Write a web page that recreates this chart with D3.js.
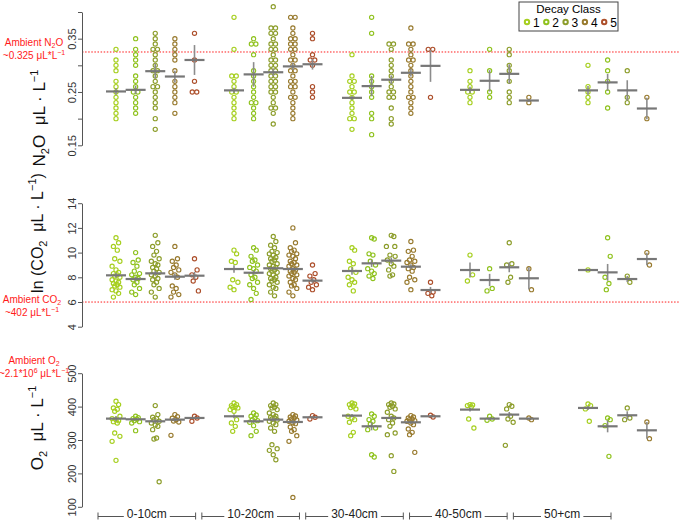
<!DOCTYPE html>
<html>
<head>
<meta charset="utf-8">
<script src="https://cdn.jsdelivr.net/npm/d3@7"></script>
<style>
  body { margin: 0; background: #fff; }
  svg { display: block; font-family: "Liberation Sans", Arial, Helvetica, sans-serif; }
</style>
</head>
<body>
<div id="chart"></div>
<script>
var depths = ['0-10cm', '10-20cm', '30-40cm', '40-50cm', '50+cm'];
var decayClasses = [1, 2, 3, 4, 5];
var classColors = ['#a6cf1f', '#8fc21d', '#8c9d2a', '#987a2e', '#ac4e2a'];

// N2O, uL/L  (one list per depth, one inner list per decay class)
var n2oPts = [
  [[0.33,0.31,0.30,0.29,0.27,0.26,0.25,0.24,0.23,0.22,0.21,0.20],
   [0.35,0.33,0.32,0.31,0.30,0.28,0.27,0.26,0.25,0.25,0.24,0.23,0.22,0.21],
   [0.36,0.35,0.34,0.33,0.33,0.32,0.31,0.30,0.29,0.29,0.28,0.27,0.26,0.26,0.25,0.24,0.23,0.22,0.20,0.18],
   [0.35,0.34,0.33,0.32,0.31,0.29,0.27,0.26,0.25,0.24,0.23,0.21],
   [0.36,0.31,0.27,0.25,0.25]],
  [[0.39,0.33,0.28,0.28,0.27,0.26,0.25,0.25,0.24,0.23,0.22,0.21,0.20],
   [0.35,0.34,0.34,0.32,0.29,0.28,0.27,0.26,0.25,0.24,0.23,0.23,0.22,0.21,0.20],
   [0.41,0.37,0.37,0.36,0.36,0.35,0.34,0.34,0.33,0.33,0.32,0.31,0.31,0.30,0.30,0.29,0.29,0.28,0.28,0.27,0.27,0.26,0.26,0.25,0.25,0.24,0.23,0.22,0.22,0.21,0.19],
   [0.39,0.39,0.37,0.36,0.35,0.35,0.34,0.34,0.33,0.33,0.32,0.31,0.31,0.30,0.29,0.29,0.28,0.27,0.27,0.26,0.26,0.25,0.24,0.24,0.23,0.22,0.21,0.20],
   [0.36,0.35,0.32,0.31,0.31,0.30,0.26,0.25,0.24]],
  [[0.32,0.28,0.27,0.27,0.26,0.25,0.25,0.24,0.23,0.22,0.21,0.20,0.20,0.18],
   [0.39,0.36,0.28,0.27,0.26,0.25,0.24,0.21,0.20,0.17],
   [0.34,0.34,0.33,0.31,0.30,0.29,0.28,0.27,0.26,0.25,0.25,0.24,0.24,0.22,0.20,0.19],
   [0.37,0.34,0.34,0.33,0.32,0.31,0.31,0.30,0.29,0.28,0.27,0.26,0.25,0.24,0.24,0.23,0.22,0.21],
   [0.33,0.33,0.24]],
  [[0.29,0.27,0.26,0.25,0.25,0.24,0.23],
   [0.33,0.29,0.25,0.24],
   [0.33,0.32,0.30,0.29,0.27,0.25,0.24,0.23],
   [0.24,0.23]],
  [[0.30,0.26,0.25,0.24,0.23],
   [0.31,0.29,0.27,0.25,0.22],
   [0.29,0.24,0.23],
   [0.24,0.20]]
];
var n2oMean = [[0.251,0.254,0.289,0.279,0.310],[0.253,0.283,0.287,0.298,0.302],[0.239,0.261,0.273,0.286,0.299],[0.254,0.271,0.284,0.234],[0.253,0.268,0.253,0.219]];
var n2oSE = [[0.006,0.008,0.014,0.011,0.028],[0.005,0.023,0.007,0.007,0.010],[0.004,0.019,0.008,0.007,0.030],[0.006,0.020,0.018,0.003],[0.008,0.016,0.019,0.020]];

// ln(CO2 uL/L)
var co2Pts = [
  [[11.2,10.8,10.5,10.2,9.5,9.3,8.9,8.6,8.4,8.3,8.2,8.1,8.0,7.8,7.7,7.6,7.5,7.4,7.3,7.2,7.0,6.9,6.7,6.4],
   [10.0,9.4,9.2,8.9,8.5,8.3,8.2,8.0,7.9,7.8,7.6,7.4,7.1,6.8,6.6],
   [11.4,10.8,10.5,10.1,9.8,9.5,9.3,9.1,9.0,8.8,8.7,8.5,8.4,8.2,8.1,7.9,7.8,7.6,7.4,7.1,6.8,6.4],
   [10.5,9.5,9.3,9.0,8.8,8.6,8.4,8.2,8.0,7.3,7.1,6.8,6.6,6.4],
   [9.5,8.6,8.2,8.0,7.7,6.9]],
  [[10.2,9.9,9.3,9.2,7.8,7.6,7.2,7.0],
   [10.4,10.2,9.7,9.4,9.3,9.0,8.8,8.7,8.5,8.2,8.0,7.9,7.6,7.4,7.1,6.7,6.2],
   [11.3,10.9,10.6,10.4,10.1,10.0,9.9,9.8,9.6,9.5,9.4,9.3,9.1,9.0,8.9,8.8,8.7,8.6,8.5,8.4,8.3,8.2,8.0,7.9,7.8,7.7,7.6,7.4,7.2,7.1,6.8,6.5],
   [12.0,10.8,10.4,10.2,10.1,9.9,9.8,9.7,9.5,9.3,9.2,9.1,9.0,8.9,8.7,8.6,8.5,8.4,8.3,8.2,8.1,7.9,7.8,7.6,7.4,7.3,7.1,6.8,6.5],
   [9.0,8.3,8.1,7.8,7.6,7.4,7.2,7.0]],
  [[10.4,10.2,9.3,9.1,8.7,8.4,8.0,7.8,7.6,7.4,6.9],
   [11.2,11.1,9.9,9.8,9.3,9.0,8.7,8.5,8.3,8.1,7.9],
   [11.4,11.3,10.5,10.5,9.8,9.7,9.4,9.1,8.9,8.6,8.2,8.1],
   [10.9,10.2,10.1,9.7,9.4,9.3,9.2,9.0,8.8,8.7,8.5,8.0,7.8,7.6,7.0],
   [7.6,6.8,6.7,6.5]],
  [[9.8,8.2,7.7],
   [8.7,7.1,6.9],
   [10.8,9.1,9.0,8.0,7.6],
   [8.7,7.0]],
  [[8.6],
   [11.2,9.7,8.0,7.5,7.0],
   [8.1,7.6],
   [10.0,9.0]]
];
var co2Mean = [[8.16,7.86,8.32,8.05,8.13],[8.67,8.37,8.73,8.67,7.73],[8.51,9.13,9.35,8.86,6.97],[8.59,7.78,8.81,7.92],[8.59,8.40,7.86,9.48]];
var co2SE = [[0.2,0.2,0.2,0.25,0.3],[0.3,0.2,0.1,0.1,0.2],[0.3,0.3,0.25,0.2,0.25],[0.6,0.5,0.4,0.9],[0,0.68,0.25,0.5]];

// O2 uL/L
var o2Pts = [
  [[416,406,396,392,386,371,364,361,358,355,351,321,311,296,239],
   [371,367,364,362,358,355,351,328],
   [403,376,368,364,361,356,351,345,341,331,306,303,175],
   [376,370,365,361,357,354,314],
   [371,366,356]],
  [[411,406,403,400,398,396,391,386,361,351,341,326],
   [381,375,371,366,361,358,353,343,326,313],
   [411,406,403,398,396,391,381,376,371,368,366,363,360,356,351,346,336,326,286,274,269,256,241],
   [376,372,369,366,363,360,356,352,349,339,331,326,313,296,128],
   [373,368,363]],
  [[411,408,406,401,397,393,371,366,361,353,323,313],
   [378,371,361,356,348,336,331,256,249],
   [411,408,406,401,398,393,383,371,366,361,351,341,321,316,253,206],
   [373,369,366,363,361,358,356,351,346,333,323,316,263],
   [374,369]],
  [[406,405,403,399,363,336],
   [371,363,359],
   [406,401,393,371,363,353,284],
   [366,361]],
  [[408,403,393,356],
   [366,361,343,251],
   [396,366,361],
   [354,304]]
];
var o2Mean = [[364,362,356,361,366],[371,356,361,354,368],[373,341,366,353,371],[391,364,376,364],[396,341,374,329]];
var o2SE = [[8,3,7,5,3],[6,5,6,5,2],[5,12,6,5,2],[6,3,8,2],[6,18,12,25]];

var n2oTicks = [0.15, 0.20, 0.25, 0.30, 0.35, 0.40];
var n2oLabelled = [0.15, 0.25, 0.35];
var co2Ticks = [4, 6, 8, 10, 12, 14];
var o2Ticks = [100, 200, 300, 400, 500];
var ambientN2O = 0.325;
var ambientCO2 = Math.log(402);

var width = 685,
  height = 520,
  axisX = 82,
  red = '#ff1a1a';

var svg = d3.select('#chart')
  .append('svg')
  .attr('width', width)
  .attr('height', height);

var xGroup = d3.scalePoint().domain(depths).range([116, 588]);
var xClass = d3.scalePoint().domain(decayClasses).range([0, 78.5]);

var yN2O = d3.scaleLinear().domain([0.15, 0.40]).range([145.3, 12]);
var yCO2 = d3.scaleLinear().domain([4, 14]).range([326.7, 203.2]);
var yO2 = d3.scaleLinear().domain([100, 500]).range([506.8, 373.2]);

var panels = [
  {pts: n2oPts, mean: n2oMean, se: n2oSE, y: yN2O, ticks: n2oTicks, spread: false,
   fmt: function(d){ return n2oLabelled.indexOf(d) > -1 ? d3.format('.2f')(d) : ''; }},
  {pts: co2Pts, mean: co2Mean, se: co2SE, y: yCO2, ticks: co2Ticks, spread: true,
   fmt: d3.format('d')},
  {pts: o2Pts, mean: o2Mean, se: o2SE, y: yO2, ticks: o2Ticks, spread: true,
   fmt: d3.format('d')}
];

// ambient reference lines (behind the points)
svg.append('line')
  .attr('x1', axisX).attr('x2', 680)
  .attr('y1', yN2O(ambientN2O)).attr('y2', yN2O(ambientN2O))
  .attr('stroke', red).attr('stroke-width', 1)
  .attr('stroke-dasharray', '1.5,1.6');

svg.append('line')
  .attr('x1', axisX).attr('x2', 680)
  .attr('y1', yCO2(ambientCO2)).attr('y2', yCO2(ambientCO2))
  .attr('stroke', red).attr('stroke-width', 1)
  .attr('stroke-dasharray', '1.5,1.6');

// small sideways shifts so overlapping samples stay visible
var jitterPattern = [0, 2.6, -2.6, 1.3, -1.3, 3.9, -3.9];

function offsets(vals, spread) {
  var counts = {}, seen = {};
  vals.forEach(function(v){ counts[v] = (counts[v] || 0) + 1; });
  return vals.map(function(v, i){
    seen[v] = seen[v] === undefined ? 0 : seen[v] + 1;
    var dup = (seen[v] - (counts[v] - 1) / 2) * 4.5;
    return dup + (spread ? jitterPattern[i % jitterPattern.length] : 0);
  });
}

panels.forEach(function(p){
  var axis = d3.axisLeft(p.y)
    .tickValues(p.ticks)
    .tickFormat(p.fmt)
    .tickSize(4)
    .tickSizeOuter(0);

  var g = svg.append('g')
    .attr('transform', 'translate(' + axisX + ',0)')
    .call(axis);
  g.select('.domain').attr('stroke', '#555');
  g.selectAll('.tick line').attr('stroke', '#555');
  g.selectAll('.tick text')
    .attr('transform', 'rotate(-90)')
    .attr('x', 0)
    .attr('y', -6)
    .attr('dy', 0)
    .attr('text-anchor', 'middle')
    .attr('fill', '#333')
    .style('font-size', '11px');

  depths.forEach(function(depth, gi){
    p.pts[gi].forEach(function(vals, ci){
      var cx = xGroup(depth) + xClass(decayClasses[ci]);
      var off = offsets(vals, p.spread);
      svg.append('g').selectAll('circle')
        .data(vals)
        .enter()
        .append('circle')
        .attr('cx', function(d, i){ return cx + off[i]; })
        .attr('cy', function(d){ return p.y(d); })
        .attr('r', 2.1)
        .attr('fill', 'none')
        .attr('stroke', classColors[ci])
        .attr('stroke-width', 1.15);
    });
  });

  depths.forEach(function(depth, gi){
    p.mean[gi].forEach(function(m, ci){
      var cx = xGroup(depth) + xClass(decayClasses[ci]);
      var se = p.se[gi][ci];
      svg.append('line')
        .attr('x1', cx).attr('x2', cx)
        .attr('y1', p.y(m - se)).attr('y2', p.y(m + se))
        .attr('stroke', '#8c8c8c')
        .attr('stroke-width', 1.6);
      svg.append('line')
        .attr('x1', cx - 10).attr('x2', cx + 10)
        .attr('y1', p.y(m)).attr('y2', p.y(m))
        .attr('stroke', '#777')
        .attr('stroke-width', 2.2);
    });
  });
});

// y titles
function rotTitle(x, y, size, parts) {
  var t = svg.append('text')
    .attr('transform', 'translate(' + x + ',' + y + ') rotate(-90)')
    .attr('text-anchor', 'middle')
    .attr('fill', '#111')
    .style('font-size', size + 'px');
  parts.forEach(function(pt){
    var s = t.append('tspan').text(pt[0]);
    if (pt[1] === 'sub') s.attr('dy', 4).style('font-size', '11px');
    if (pt[1] === 'back') s.attr('dy', -4);
    if (pt[1] === 'sup') s.attr('dy', -7).style('font-size', '11px');
    if (pt[1] === 'down') s.attr('dy', 7);
  });
}

rotTitle(45, 118, 17, [['N'], ['2', 'sub'], ['O\u00a0\u00a0\u03bcL \u00b7 L', 'back'], ['\u22121', 'sup']]);
rotTitle(43, 233, 16, [['ln (CO'], ['2', 'sub'], ['\u00a0\u00a0\u03bcL \u00b7 L', 'back'], ['\u22121', 'sup'], [')', 'down']]);
rotTitle(43, 428, 17, [['O'], ['2', 'sub'], ['\u00a0\u00a0\u03bcL \u00b7 L', 'back'], ['\u22121', 'sup']]);

// ambient annotations
function redLines(x, y, lines) {
  lines.forEach(function(parts, li){
    var t = svg.append('text')
      .attr('x', x).attr('y', y + li * 12.5)
      .attr('text-anchor', 'middle')
      .attr('fill', red)
      .style('font-size', '10px');
    parts.forEach(function(pt){
      var s = t.append('tspan').text(pt[0]);
      if (pt[1] === 'sub') s.attr('dy', 2).style('font-size', '7px');
      if (pt[1] === 'back') s.attr('dy', -2);
      if (pt[1] === 'sup') s.attr('dy', -3.5).style('font-size', '7px');
      if (pt[1] === 'down') s.attr('dy', 3.5);
    });
  });
}

redLines(34, 46, [[['Ambient N'], ['2', 'sub'], ['O', 'back']],
                  [['~0.325 \u03bcL*L'], ['\u22121', 'sup']]]);
redLines(32, 303, [[['Ambient CO'], ['2', 'sub']],
                   [['~402 \u03bcL*L'], ['\u22121', 'sup']]]);
redLines(34, 364, [[['Ambient O'], ['2', 'sub']],
                   [['~2.1*10'], ['6', 'sup'], ['\u00a0\u03bcL*L', 'down'], ['\u22121', 'sup']]]);

// depth brackets along the bottom
var xBand = d3.scaleBand().domain(depths).range([98, 611]).paddingInner(0.06);
var lineY = 516.5;
depths.forEach(function(depth){
  var x0 = xBand(depth), x1 = x0 + xBand.bandwidth(), xm = (x0 + x1) / 2;
  var lab = svg.append('text')
    .attr('x', xm).attr('y', 518)
    .attr('text-anchor', 'middle')
    .attr('fill', '#222')
    .style('font-size', '12px')
    .text(depth);
  var w = lab.node().getComputedTextLength();
  var seg = [[x0, xm - w / 2 - 3], [xm + w / 2 + 3, x1]];
  seg.forEach(function(s){
    svg.append('line')
      .attr('x1', s[0]).attr('x2', s[1])
      .attr('y1', lineY).attr('y2', lineY)
      .attr('stroke', '#555');
  });
  [x0, x1].forEach(function(xe){
    svg.append('line')
      .attr('x1', xe).attr('x2', xe)
      .attr('y1', lineY - 4).attr('y2', lineY + 3)
      .attr('stroke', '#555');
  });
});

// legend
var legend = svg.append('g').attr('transform', 'translate(519,2)');
legend.append('rect')
  .attr('width', 99).attr('height', 29)
  .attr('fill', '#fff')
  .attr('stroke', '#444');
legend.append('text')
  .attr('x', 49.5).attr('y', 10.5)
  .attr('text-anchor', 'middle')
  .style('font-size', '11.5px')
  .text('Decay Class');
decayClasses.forEach(function(c, i){
  legend.append('circle')
    .attr('cx', 8 + i * 19.3).attr('cy', 20)
    .attr('r', 2.2)
    .attr('fill', 'none')
    .attr('stroke', classColors[i])
    .attr('stroke-width', 2);
  legend.append('text')
    .attr('x', 14 + i * 19.3).attr('y', 24.5)
    .style('font-size', '12px')
    .text(c);
});
</script>
</body>
</html>
